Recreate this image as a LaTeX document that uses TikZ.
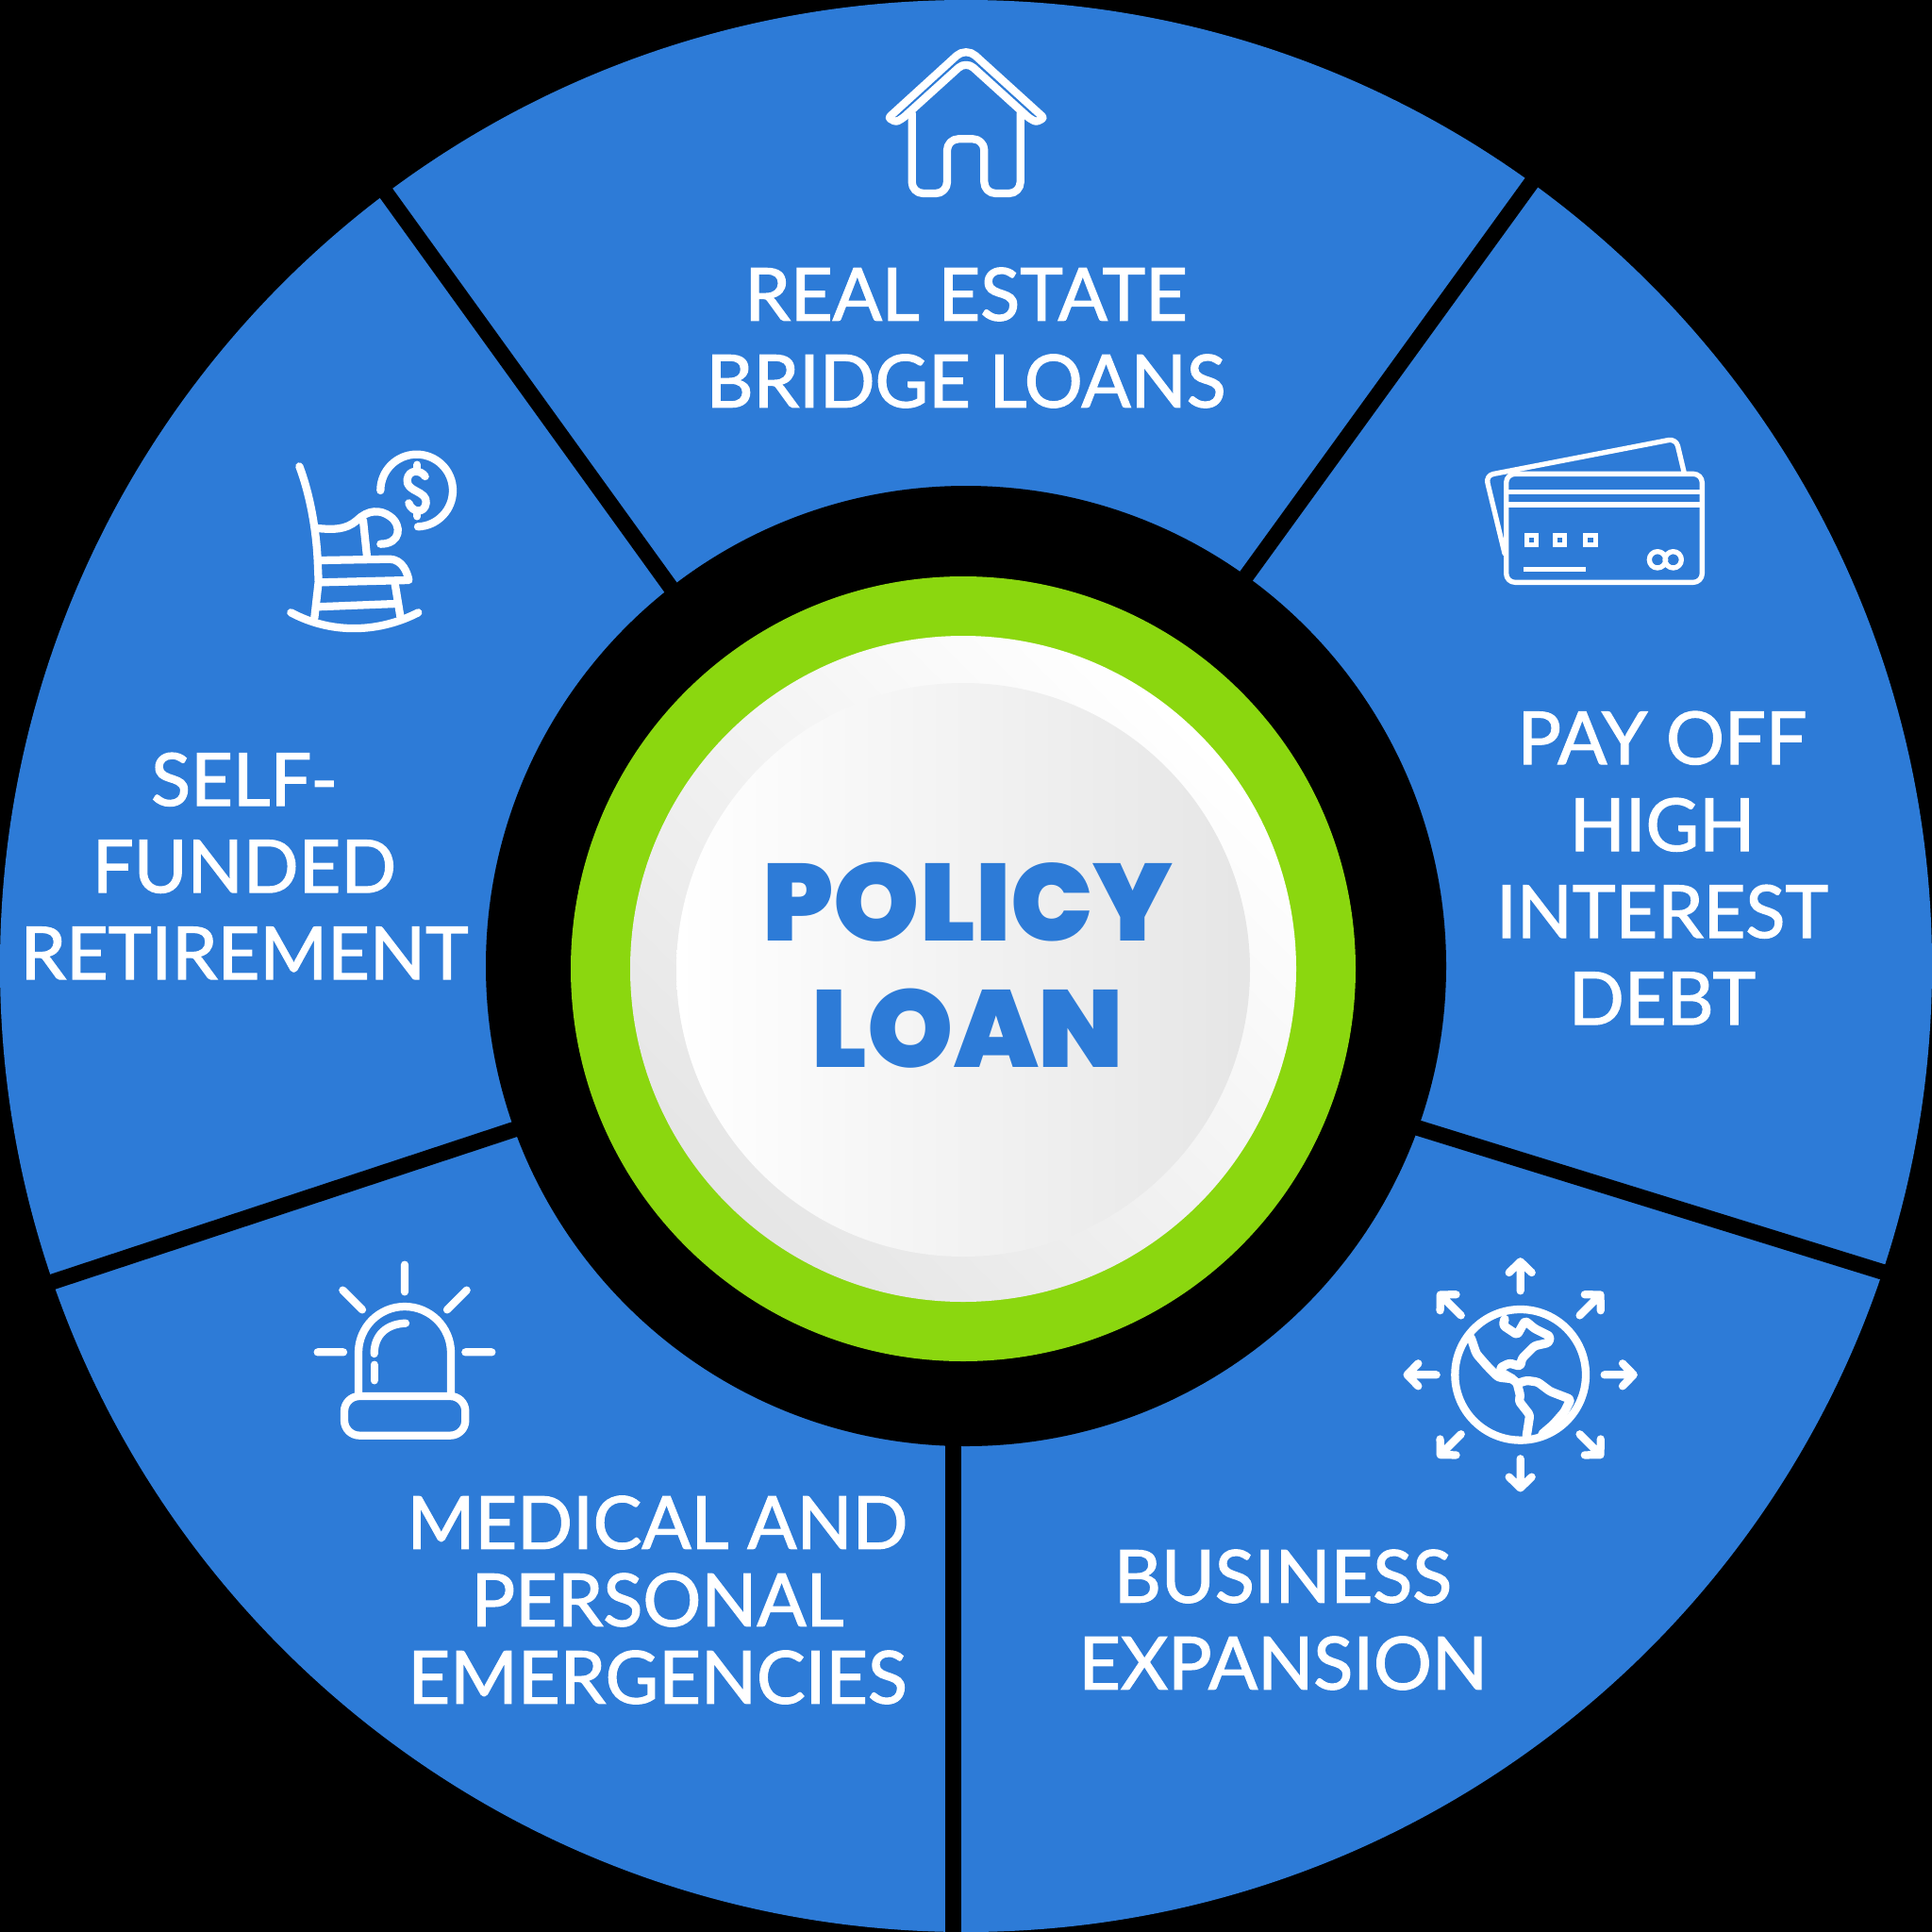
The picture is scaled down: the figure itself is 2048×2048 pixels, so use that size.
\documentclass[tikz,border=0pt]{standalone}
\usepackage{fontspec}
\setmainfont{Lato}[FakeBold=1.6]
\newfontfamily\policyfont{Poppins}[UprightFont=* Black]
\definecolor{loanblue}{RGB}{45,123,215}
\definecolor{loangreen}{RGB}{139,215,15}
\tikzset{
	sectortext/.style={font=\fontsize{58}{69}\selectfont,text=white,align=center,inner sep=0.75pt},
	policytext/.style={font=\policyfont\fontsize{87}{100}\selectfont,text=loanblue,align=center,inner sep=0.75pt},
	iconline/.style={draw=white,line width=6.2pt,line cap=round,line join=round},
	separator/.style={draw=black,line width=12.5pt}
}
\begin{document}
\begin{tikzpicture}[x=0.75pt,y=0.75pt,yscale=-1,xscale=1]
	\useasboundingbox (0,0) rectangle (2048,2048);
	\fill[black] (0,0) rectangle (2048,2048);
	
	%Shape: Circle
	\fill[loanblue] (1024,1024) circle (1024);
	
	%Shape: Separators
	\coordinate (septlin) at (722,638);
	\coordinate (septlout) at (398,189);
	\coordinate (septrin) at (1310,626);
	\coordinate (septrout) at (1634,179);
	\coordinate (seprin) at (1485,1190);
	\coordinate (seprout) at (2014,1354);
	\coordinate (seplin) at (564,1191);
	\coordinate (seplout) at (37,1365);
	\coordinate (sepbin) at (1010.5,1500);
	\coordinate (sepbout) at (1010.5,2060);
	\draw[separator] (septlin) -- (septlout);
	\draw[separator] (septrin) -- (septrout);
	\draw[separator] (seprin) -- (seprout);
	\draw[separator] (seplin) -- (seplout);
	\draw[separator] (sepbin) -- (sepbout);
	
	%Shape: Circle
	\fill[black] (1024,1024) circle (509);
	\fill[loangreen] (1021,1027) circle (416);
	\shade[shading=axis,left color=white,right color=white!90!black,shading angle=315] (1021,1027) circle (353);
	\shade[shading=axis,left color=white,right color=white!90!black] (1021,1028) circle (304);
	
	% Text Node
	\draw (1024,358) node [sectortext] (realestate) {REAL ESTATE\\BRIDGE LOANS};
	% Text Node
	\draw (1762,920) node [sectortext] (payoff) {PAY OFF\\HIGH\\INTEREST\\DEBT};
	% Text Node
	\draw (259,918) node [sectortext] (selffunded) {SELF-\\FUNDED\\RETIREMENT};
	% Text Node
	\draw (697,1696) node [sectortext,font=\fontsize{58}{61.5}\selectfont] (medical) {MEDICAL AND\\PERSONAL\\EMERGENCIES};
	% Text Node
	\draw (1360,1717) node [sectortext] (business) {BUSINESS\\EXPANSION};
	% Text Node
	\draw (1026,1023) node [policytext] (policyloan) {POLICY\\LOAN};
	
	%Shape: House
	\begin{scope}[shift={(900,30)},scale=1/3]
		\draw[iconline,rounded corners=2pt] (150,298) -- (125,285) [rounded corners=10pt] -- (372,60) [rounded corners=2pt] -- (620,285) -- (595,298) -- (572,285) [rounded corners=8pt] -- (372,104) [rounded corners=2pt] -- (172,285) -- cycle;
		\draw[iconline,rounded corners=9pt] (200,270) -- (200,525) -- (312,525) -- (312,352) -- (430,352) -- (430,525) -- (545,525) -- (545,270);
	\end{scope}
	
	%Shape: Cards
	\begin{scope}[shift={(1550,440)},scale=1/3]
		\draw[iconline,line width=4pt,rounded corners=6pt] (135,440) -- (75,192) -- (680,75) -- (705,180);
		\draw[iconline,line width=4pt,rounded corners=7pt] (140,187) rectangle (763,532);
		\draw[iconline,line width=4pt,line cap=butt] (140,245) -- (763,245) (140,285) -- (763,285) (195,490) -- (392,490);
		\foreach \cx in {205,295,392}
			\draw[iconline,line width=3.75pt,line join=miter] (\cx,383) rectangle +(31,30);
		\draw[iconline,line width=4pt] (621,460) circle (26) (671,460) circle (26);
	\end{scope}
	
	%Shape: Rocking chair
	\begin{scope}[shift={(290,460)},scale=1/3]
		\draw[iconline] (82,103) .. controls (115,190) and (135,300) .. (140,400) -- (143,470) -- (130,585);
		\draw[iconline] (55,568) .. controls (190,640) and (340,630) .. (460,568);
		\draw[iconline] (140,300) .. controls (190,305) and (230,305) .. (265,275) .. controls (300,240) and (340,240) .. (370,262) .. controls (410,290) and (405,350) .. (340,350);
		\draw[iconline] (285,275) -- (297,390);
		\draw[iconline] (150,402) -- (370,398) .. controls (410,400) and (425,440) .. (430,465) -- (150,472);
		\draw[iconline] (385,470) -- (403,580);
		\draw[iconline] (135,550) -- (390,540);
		\draw[iconline] (340,180) arc[start angle=180,end angle=448,radius=115];
		\draw[iconline] (482,135) .. controls (470,115) and (430,110) .. (425,145) .. controls (420,185) and (490,180) .. (485,220) .. controls (480,255) and (440,250) .. (430,220);
		\draw[iconline] (457,98) -- (457,115) (457,250) -- (457,262);
	\end{scope}
	
	%Shape: Siren
	\begin{scope}[shift={(320,1320)},scale=1/3]
		\draw[iconline] (327,62) -- (327,148) (130,143) -- (192,205) (524,143) -- (462,205) (50,340) -- (132,340) (520,340) -- (604,340);
		\draw[iconline] (180,478) -- (180,342) arc[start angle=180,end angle=360,radius=147] -- (474,478);
		\draw[iconline] (230,345) .. controls (230,285) and (270,250) .. (330,248);
		\draw[iconline] (230,380) -- (230,430);
		\draw[iconline,rounded corners=12pt] (135,480) rectangle (520,605);
	\end{scope}
	
	%Shape: Globe
	\begin{scope}[shift={(1470,1320)},scale=1/3]
		\draw[iconline] (425,412) circle (208);
		\foreach \ang in {0,45,...,315}
			\draw[iconline,shift={(425,412)},rotate=\ang] (267,0) -- (360,0) (325,-36) -- (360,0) -- (325,36);
		\draw[iconline,line width=7pt,rounded corners=2pt] (268,295) -- (285,345) -- (320,385) -- (355,420) -- (400,425) -- (415,440) -- (445,430) -- (480,435) -- (520,465) -- (585,490) -- (565,530) -- (530,570) -- (495,600);
		\draw[iconline,line width=7pt,rounded corners=2pt] (415,440) -- (425,480) -- (420,495) -- (455,540) -- (445,605);
		\draw[iconline,line width=7pt,rounded corners=2pt] (375,235) -- (370,255) -- (415,285) -- (440,240) -- (470,265) -- (520,290) -- (515,310) -- (470,320) -- (430,360) -- (425,385) -- (390,375) -- (360,390) -- (365,405) -- (400,425);
	\end{scope}
	
\end{tikzpicture}
\end{document}
